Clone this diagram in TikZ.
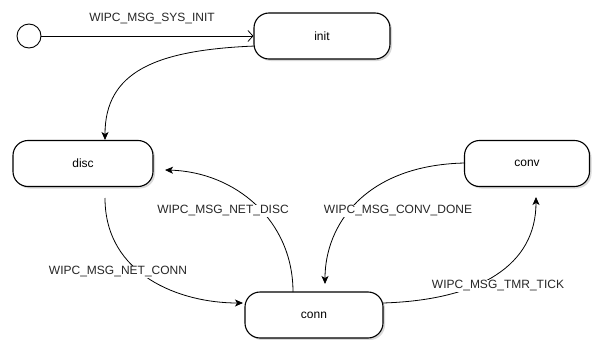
\documentclass[tikz,border=0pt]{standalone}
\usepackage{fontspec}
\setmainfont{Liberation Sans}
\usetikzlibrary{arrows.meta,shadows}
\begin{document}
\begin{tikzpicture}[x=1pt,y=-1pt,
  state/.style={draw=black,line width=1.1pt,rounded corners=15pt,fill=white,
    minimum width=136pt,minimum height=46pt,inner sep=0pt,
    drop shadow={shadow xshift=2pt,shadow yshift=-2pt,fill=black!25,opacity=0.6},
    font=\fontsize{12}{14}\selectfont},
  lbl/.style={fill=white,inner sep=1pt,text=black!85,font=\fontsize{12}{14}\selectfont},
  conn/.style={draw=black,line width=0.8pt,-{Stealth[length=8pt,width=7pt,inset=2pt]}}
]
\useasboundingbox (0,0) rectangle (595,340);
\node[draw=black,line width=0.9pt,circle,minimum size=24pt,inner sep=0pt,fill=white] (start) at (29,36) {};
\node[state] (init) at (322,36) {init};
\node[state,minimum width=140pt] (disc) at (83,163.5) {disc};
\node[state,minimum width=138pt] (connb) at (314,315) {conn};
\node[state,minimum width=125pt] (conv) at (527,163.5) {conv};

\coordinate (a1) at (255,46);
\coordinate (a2) at (105,140);
\coordinate (b1) at (293,292);
\coordinate (b2) at (165,170);
\coordinate (c1) at (105,198);
\coordinate (c2) at (243,303);
\coordinate (d1) at (465,163);
\coordinate (d2) at (325,284);
\coordinate (e1) at (383,303);
\coordinate (e2) at (536,197);

\draw[line width=0.8pt,-{Straight Barb[length=5pt,width=11pt]}] (start) -- (init.west |- start);
\node[lbl] (l0) at (152,19) {WIPC\_MSG\_SYS\_INIT};

\draw[conn] (a1) .. controls (155,50) and (105,72) .. (a2);
\draw[conn] (b1) .. controls (293,220) and (235,172) .. (b2);
\draw[conn] (c1) .. controls (105,275) and (180,303) .. (c2);
\draw[conn] (d1) .. controls (365,165) and (325,225) .. (d2);
\draw[conn] (e1) .. controls (480,300) and (536,265) .. (e2);

\node[lbl] (l1) at (223,211) {WIPC\_MSG\_NET\_DISC};
\node[lbl] (l2) at (118,272) {WIPC\_MSG\_NET\_CONN};
\node[lbl] (l3) at (398,211) {WIPC\_MSG\_CONV\_DONE};
\node[lbl] (l4) at (498,286) {WIPC\_MSG\_TMR\_TICK};
\end{tikzpicture}
\end{document}
